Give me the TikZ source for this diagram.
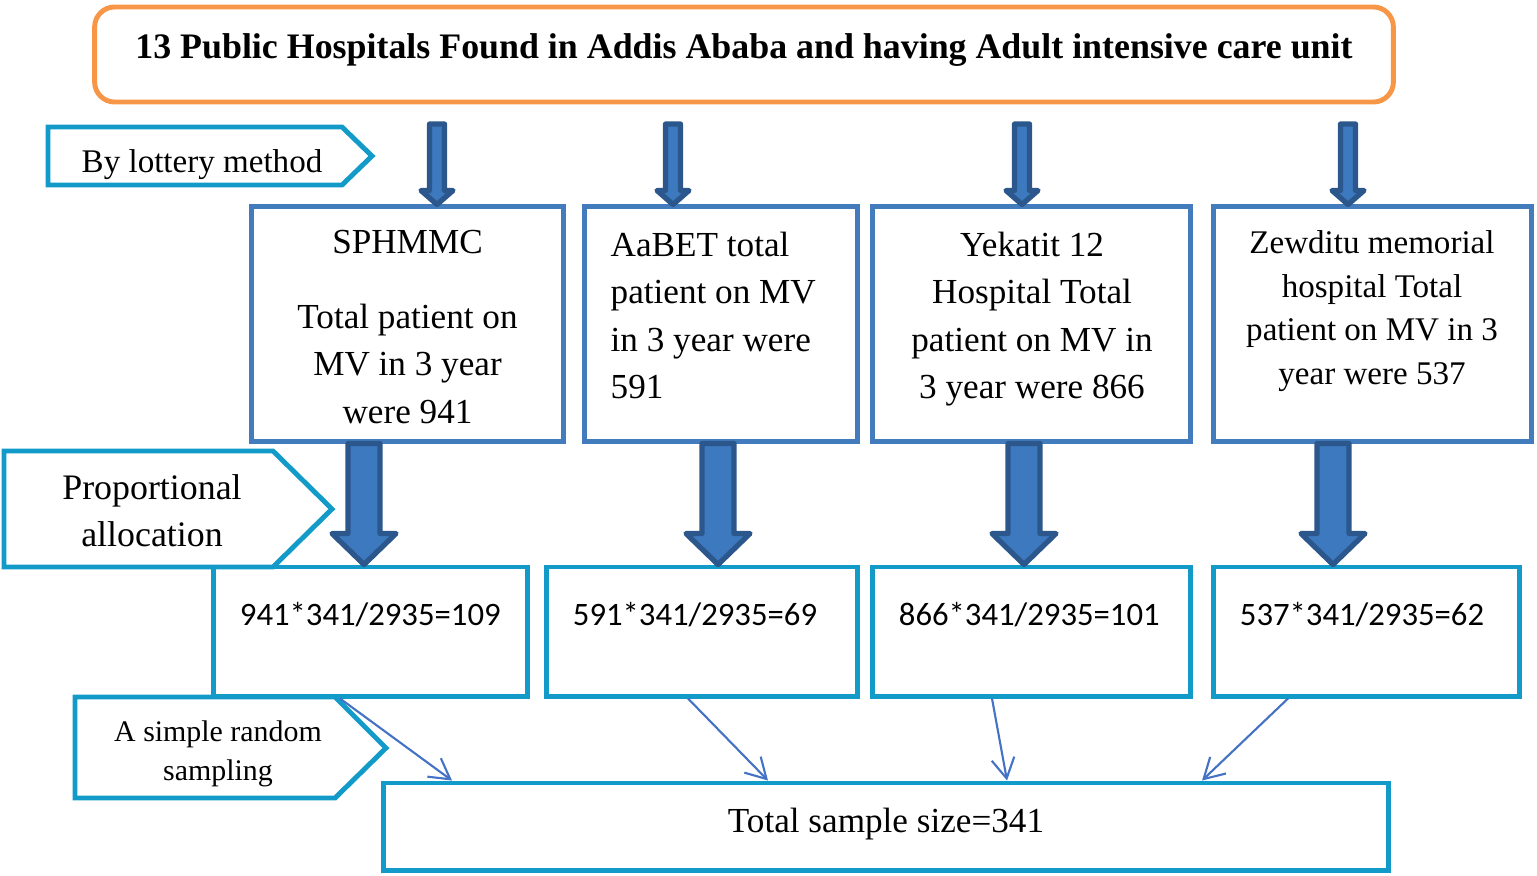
\documentclass[tikz,border=0pt]{standalone}
\usepackage{fontspec}
\setmainfont{LiberationSerif}[Extension=.ttf, UprightFont=*-Regular, BoldFont=*-Bold, ItalicFont=*-Italic, BoldItalicFont=*-BoldItalic]
\newfontfamily\calcfont{Carlito}
\usetikzlibrary{arrows.meta,calc}
\definecolor{TitleOrange}{RGB}{247,150,70}
\definecolor{TagCyan}{RGB}{18,155,200}
\definecolor{HospBlue}{RGB}{66,124,189}
\definecolor{BlockFill}{RGB}{61,121,190}
\definecolor{BlockEdge}{RGB}{44,87,140}
\definecolor{LinkBlue}{RGB}{68,114,196}
\tikzset{
  TitleStyle/.style = { draw=TitleOrange, line width=1.4pt, rounded corners=0.2cm,
    minimum width=12.98cm, minimum height=0.95cm, inner sep=0pt,
    font=\bfseries\fontsize{10.2}{12}\selectfont, text height=0.25cm, text depth=0.18cm },
  HospStyle/.style = { draw=HospBlue, line width=1.4pt, minimum height=2.34cm, inner sep=0pt },
  HospText/.style = { inner sep=0pt, align=center, anchor=north, font=\fontsize{10}{13.5}\selectfont },
  CalcStyle/.style = { draw=TagCyan, line width=1.4pt, minimum height=1.29cm,
    inner xsep=0.26cm, inner ysep=0pt, align=left,
    font=\calcfont\fontsize{9.3}{11}\selectfont, text height=0.22cm, text depth=0.35cm },
  TotalStyle/.style = { draw=TagCyan, line width=1.4pt, minimum width=10.04cm, minimum height=0.87cm,
    inner sep=0pt, font=\fontsize{10}{12}\selectfont, text height=0.24cm, text depth=0.13cm },
  TagStyle/.style = { draw=TagCyan, line width=1.4pt },
  TagText/.style = { inner sep=0pt, align=center },
  BlockStyle/.style = { fill=BlockFill, draw=BlockEdge, line width=1.5pt, line join=round },
  LinkStyle/.style = { draw=LinkBlue, line width=0.6pt, -{Straight Barb[length=5.7pt,width=6.5pt]} } }
\newcommand{\BlockArrow}[5]{%
  \path (#1) coordinate (ba-s) (#2) coordinate (ba-t);
  \draw[BlockStyle] ($(ba-s)+(-#3,0)$) -- ($(ba-t)+(-#3,-#5)$) -- ($(ba-t)+(-#4,-#5)$) -- (ba-t)
    -- ($(ba-t)+(#4,-#5)$) -- ($(ba-t)+(#3,-#5)$) -- ($(ba-s)+(#3,0)$) -- cycle;}
\begin{document}
\begin{tikzpicture}[x=0.01cm, y=-0.01cm]
  \useasboundingbox (0,0) rectangle (1537,875);
  \node[TitleStyle] (top) at (744,54.5) {13 Public Hospitals Found in Addis Ababa and having Adult intensive care unit};

  \node[HospStyle, minimum width=3.11cm] (sph) at (407.5,324) {};
  \node[HospStyle, minimum width=2.72cm] (aab) at (721,324) {};
  \node[HospStyle, minimum width=3.17cm] (yek) at (1031.5,324) {};
  \node[HospStyle, minimum width=3.17cm] (zew) at (1372.5,324) {};
  \node[HospText] (sph-txt) at (407.5,229.5) {SPHMMC\\[7.8pt]Total patient on\\MV in 3 year\\were 941};
  \node[HospText, anchor=north west, align=left] (aab-txt) at (610,231) {AaBET total\\patient on MV\\in 3 year were\\591};
  \node[HospText] (yek-txt) at (1032,231) {Yekatit 12\\Hospital Total\\patient on MV in\\3 year were 866};
  \node[HospText, font=\fontsize{9.4}{12.4}\selectfont] (zew-txt) at (1372,230) {Zewditu memorial\\hospital Total\\patient on MV in 3\\year were 537};

  \node[CalcStyle, text width=2.61cm] (c1) at (370.5,631.5) {941*341/2935=109};
  \node[CalcStyle, text width=2.58cm] (c2) at (702,631.5) {591*341/2935=69};
  \node[CalcStyle, text width=2.65cm] (c3) at (1031.5,631.5) {866*341/2935=101};
  \node[CalcStyle, text width=2.53cm] (c4) at (1366.5,631.5) {537*341/2935=62};

  \node[TotalStyle] (total) at (886,826.5) {Total sample size=341};

  \draw[TagStyle] (48,127) -- (342,127) -- (372,156) -- (342,185) -- (48,185) -- cycle;
  \node[TagText, anchor=base, font=\fontsize{9.4}{11}\selectfont] (lottery) at (202,172) {By lottery method};
  \draw[TagStyle] (4,451) -- (273,451) -- (332,509) -- (273,567) -- (4,567) -- cycle;
  \node[TagText, anchor=north, font=\fontsize{10.2}{13.4}\selectfont] (prop) at (152,473.5) {Proportional\\allocation};
  \draw[TagStyle] (75,697) -- (335,697) -- (386,748) -- (335,798) -- (75,798) -- cycle;
  \node[TagText, anchor=north, font=\fontsize{8.5}{11.1}\selectfont] (srs) at (218,720) {A simple random\\sampling};

  \foreach \x/\hosp in {437/sph, 673/aab, 1022/yek, 1348/zew}
    \BlockArrow{\x,124}{\x,0 |- \hosp.north}{7.5}{16}{14};
  \foreach \x/\hosp/\cbox in {364/sph/c1, 718/aab/c2, 1024/yek/c3, 1333/zew/c4}
    \BlockArrow{\x,0 |- \hosp.south}{\x,0 |- \cbox.north}{16}{32}{31};

  \draw[LinkStyle] ($(c1.south)+(-30.5,0)$) -- ($(total.north)+(-434,0)$);
  \draw[LinkStyle] ($(c2.south)+(-14,0)$) -- ($(total.north)+(-118,0)$);
  \draw[LinkStyle] ($(c3.south)+(-39.5,0)$) -- ($(total.north)+(121,0)$);
  \draw[LinkStyle] ($(c4.south)+(-78.5,0)$) -- ($(total.north)+(316,0)$);
\end{tikzpicture}
\end{document}
